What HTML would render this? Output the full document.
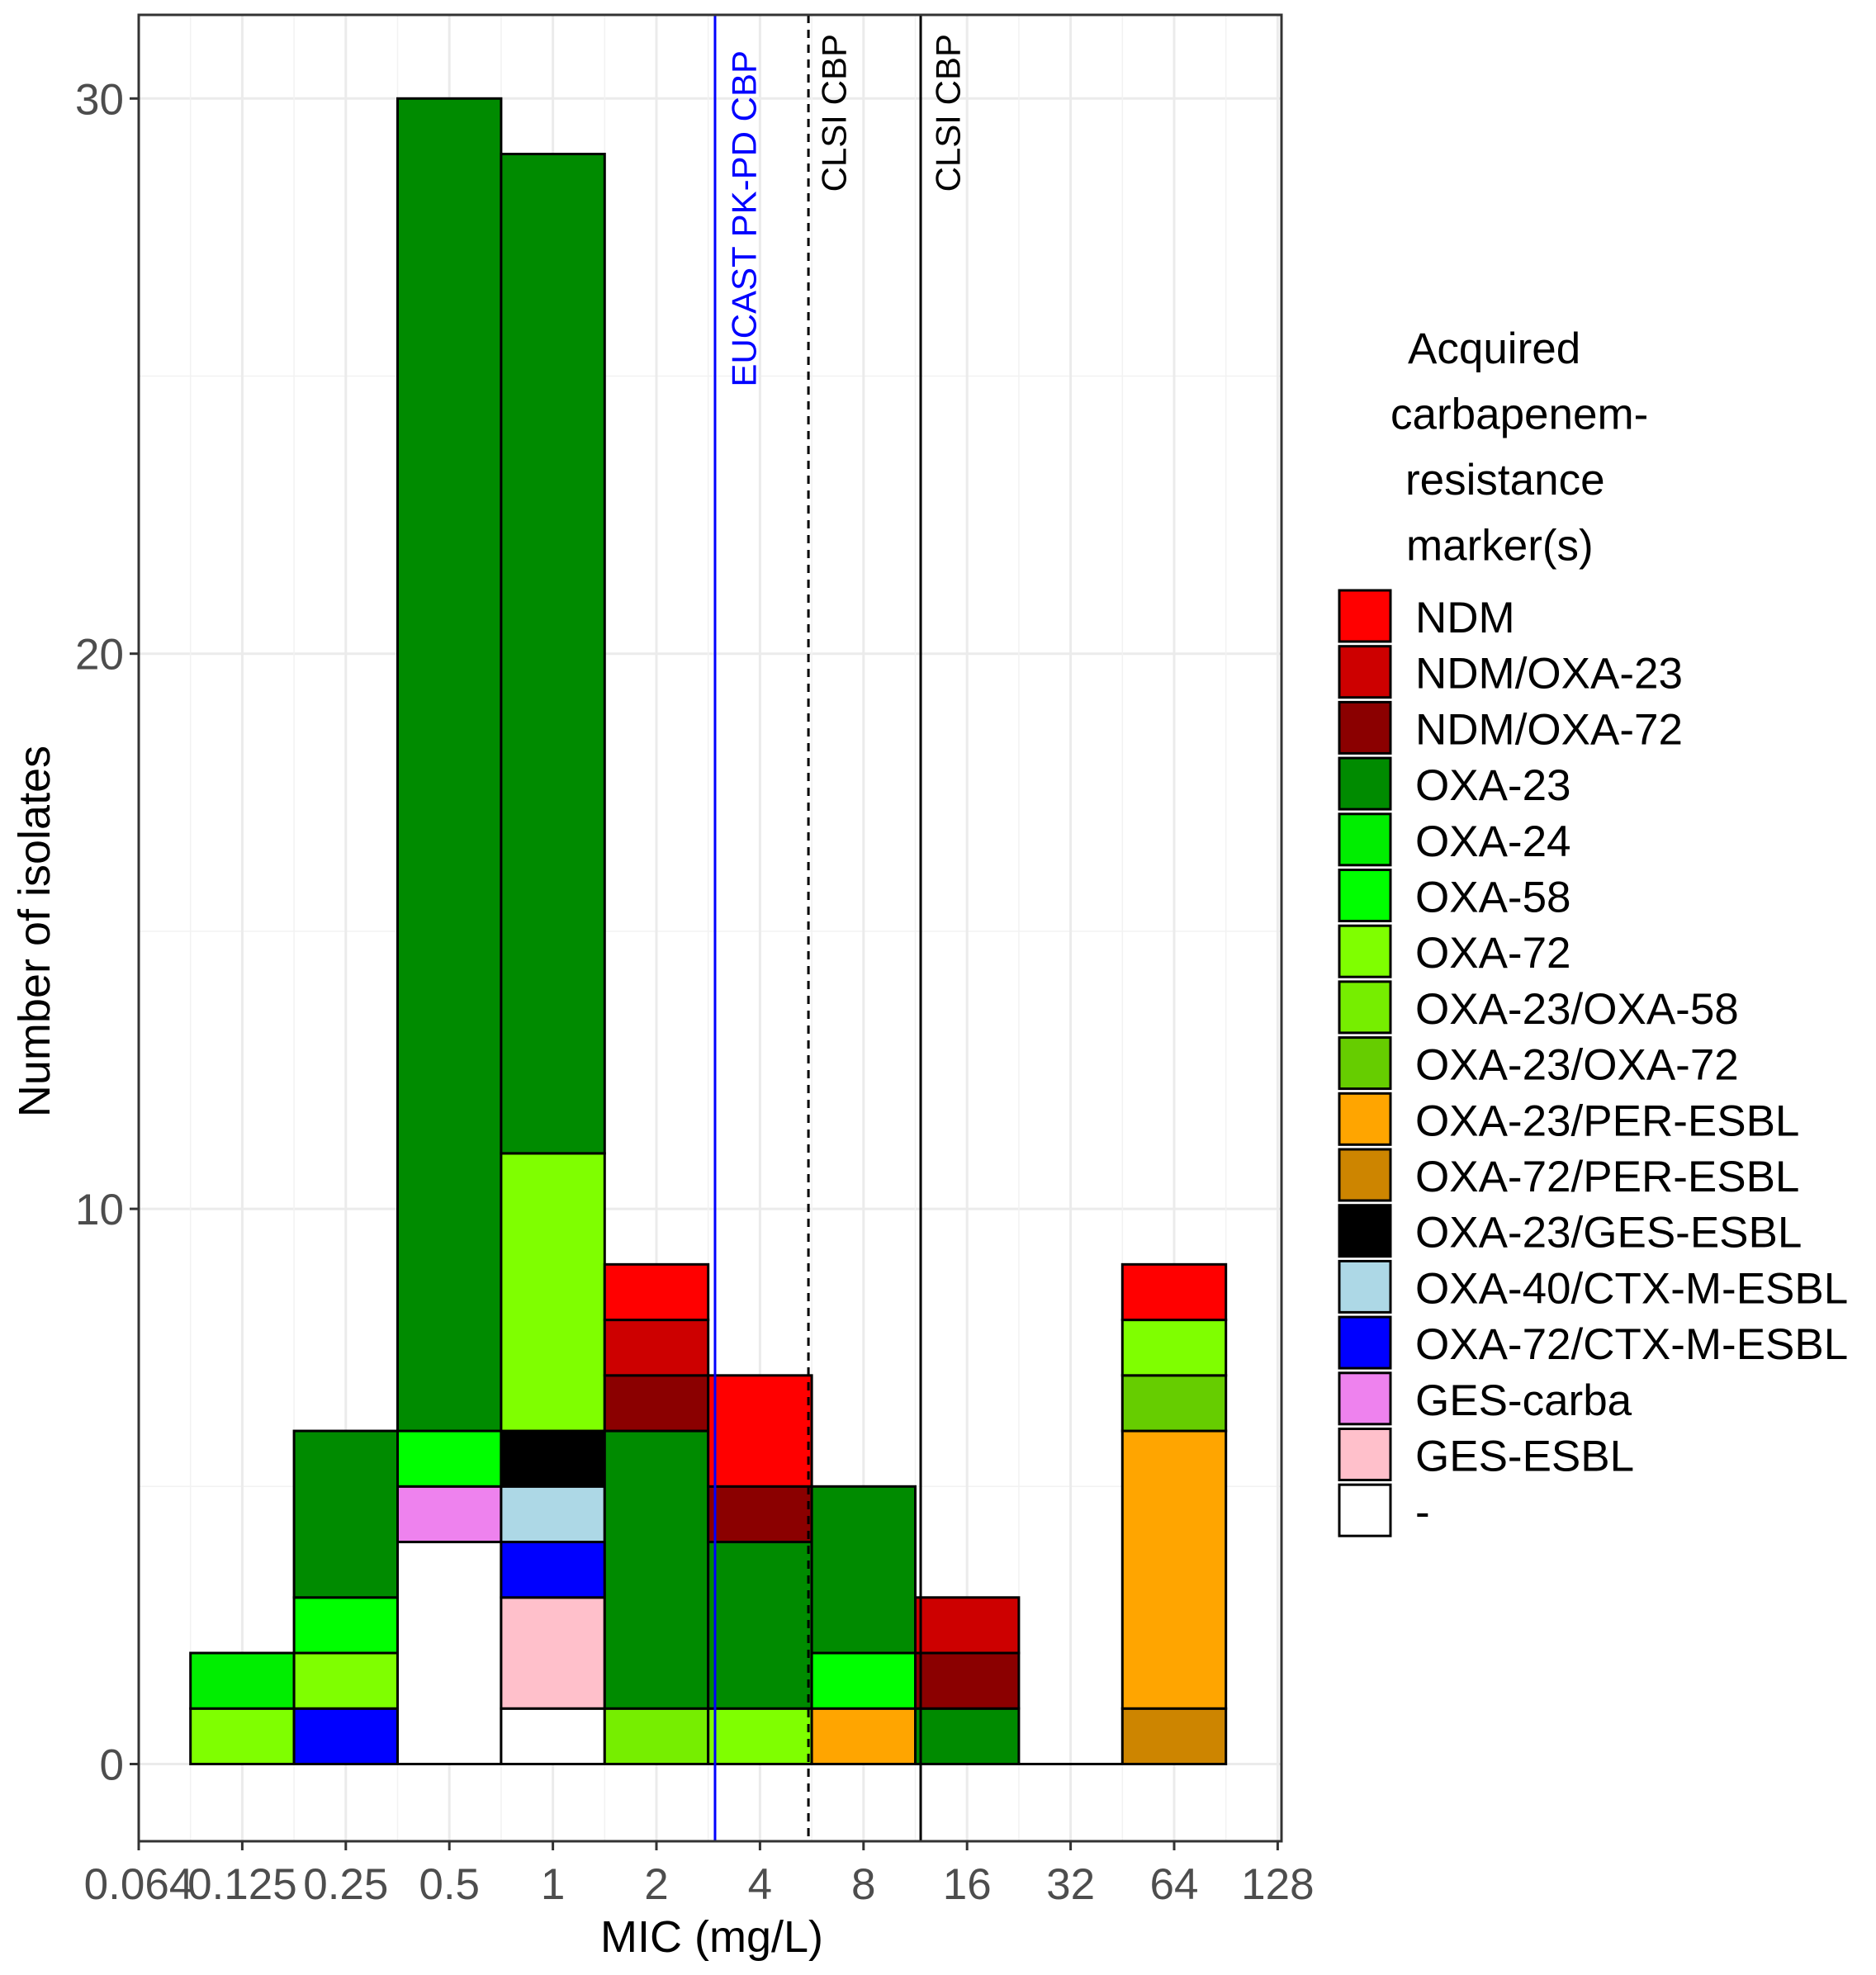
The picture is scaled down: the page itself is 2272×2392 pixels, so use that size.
<!DOCTYPE html>
<html><head><meta charset="utf-8"><style>
html,body{margin:0;padding:0;background:#fff;}
svg{display:block;font-family:"Liberation Sans",Arial,sans-serif;}
</style></head><body>
<svg id="chart" width="2272" height="2392" viewBox="0 0 2272 2392" xmlns="http://www.w3.org/2000/svg"></svg>
<script>
const categories = ["0.064","0.125","0.25","0.5","1","2","4","8","16","32","64","128"];
const markers = ["NDM","NDM/OXA-23","NDM/OXA-72","OXA-23","OXA-24","OXA-58","OXA-72","OXA-23/OXA-58","OXA-23/OXA-72","OXA-23/PER-ESBL","OXA-72/PER-ESBL","OXA-23/GES-ESBL","OXA-40/CTX-M-ESBL","OXA-72/CTX-M-ESBL","GES-carba","GES-ESBL","-"];
const markerColors = ["#ff0000","#cd0000","#8b0000","#008b00","#00ee00","#00ff00","#7fff00","#76ee00","#66cd00","#ffa500","#cd8500","#000000","#add8e6","#0000ff","#ee82ee","#ffc0cb","#ffffff"];
// stacks: [categoryIndex, marker, count] bottom to top
const stacks = [
 [1,"OXA-72",1],[1,"OXA-24",1],
 [2,"OXA-72/CTX-M-ESBL",1],[2,"OXA-72",1],[2,"OXA-58",1],[2,"OXA-23",3],
 [3,"-",4],[3,"GES-carba",1],[3,"OXA-58",1],[3,"OXA-23",24],
 [4,"-",1],[4,"GES-ESBL",2],[4,"OXA-72/CTX-M-ESBL",1],[4,"OXA-40/CTX-M-ESBL",1],[4,"OXA-23/GES-ESBL",1],[4,"OXA-72",5],[4,"OXA-23",18],
 [5,"OXA-23/OXA-58",1],[5,"OXA-23",5],[5,"NDM/OXA-72",1],[5,"NDM/OXA-23",1],[5,"NDM",1],
 [6,"OXA-72",1],[6,"OXA-23",3],[6,"NDM/OXA-72",1],[6,"NDM",2],
 [7,"OXA-23/PER-ESBL",1],[7,"OXA-58",1],[7,"OXA-23",3],
 [8,"OXA-23",1],[8,"NDM/OXA-72",1],[8,"NDM/OXA-23",1],
 [9,"-",0],
 [10,"OXA-72/PER-ESBL",1],[10,"OXA-23/PER-ESBL",5],[10,"OXA-23/OXA-72",1],[10,"OXA-72",1],[10,"NDM",1]
];
const yTicks = [0,10,20,30];
const yMinor = [5,15,25];
const refLines = [
 {label:"EUCAST PK-PD CBP", pos:5.566, color:"#0000ff", dash:null, tx:901},
 {label:"CLSI CBP", pos:6.468, color:"#000000", dash:"10,8", tx:1010},
 {label:"CLSI CBP", pos:7.552, color:"#000000", dash:null, tx:1148}
];

const svg = document.getElementById('chart');
const NS = "http://www.w3.org/2000/svg";
const L=168, R=1552, T=18, B=2230, X0=168, DX=125.4, Y0=2136.5, DY=67.24;
const xs = i => X0 + DX*i;
const ys = v => Y0 - DY*v;
function mk(tag, attrs, parent){const e=document.createElementNS(NS,tag);for(const k in attrs)e.setAttribute(k,attrs[k]);(parent||svg).appendChild(e);return e;}

const grid = mk('g',{});


yMinor.forEach(v=>mk('line',{x1:L,x2:R,y1:ys(v),y2:ys(v),stroke:'#f2f2f2','stroke-width':1.5},grid));
yTicks.forEach(v=>mk('line',{x1:L,x2:R,y1:ys(v),y2:ys(v),stroke:'#ebebeb','stroke-width':3},grid));
categories.forEach((c,i)=>{
  if(i<categories.length-1) mk('line',{x1:xs(i+0.5),x2:xs(i+0.5),y1:T,y2:B,stroke:'#f2f2f2','stroke-width':1.5},grid);
  mk('line',{x1:xs(i),x2:xs(i),y1:T,y2:B,stroke:'#ebebeb','stroke-width':3},grid);
});

const bars = mk('g',{});


const cum = {};
stacks.forEach(([ci,m,n])=>{
  const base = cum[ci]||0;
  const col = markerColors[markers.indexOf(m)];
  if(n===0){
    const z = mk('line',{x1:xs(ci)-DX/2,x2:xs(ci)+DX/2,y1:ys(base),y2:ys(base),stroke:'#000','stroke-width':3},bars);
    
    
    return;
  }
  const r = mk('rect',{x:xs(ci)-DX/2,y:ys(base+n),width:DX,height:ys(base)-ys(base+n),fill:col,stroke:'#000','stroke-width':3},bars);
  
  
  cum[ci]=base+n;
});

refLines.forEach(l=>{
  const ln = mk('line',{x1:xs(l.pos),x2:xs(l.pos),y1:T,y2:B,stroke:l.color,'stroke-width':3});
  if(l.dash) ln.setAttribute('stroke-dasharray',l.dash);
  
  
  const yTop = l.label.length>10 ? 61 : 41;
  const t = mk('text',{x:l.tx,y:yTop,transform:`rotate(-90 ${l.tx} ${yTop})`,'text-anchor':'end','dominant-baseline':'central',fill:l.color,'font-size':42});
  t.textContent=l.label;
  
  
});

const border = mk('rect',{x:L,y:T,width:R-L,height:B-T,fill:'none',stroke:'#333','stroke-width':3});



yTicks.forEach(v=>{
  mk('line',{x1:L-11,x2:L,y1:ys(v),y2:ys(v),stroke:'#333','stroke-width':3});
  const t=mk('text',{x:L-18,y:ys(v)+19,'text-anchor':'end',fill:'#4d4d4d','font-size':53});
  t.textContent=v;
  
  
});
categories.forEach((c,i)=>{
  mk('line',{x1:xs(i),x2:xs(i),y1:B,y2:B+11,stroke:'#333','stroke-width':3});
  const t=mk('text',{x:xs(i),y:2300,'text-anchor':'middle',fill:'#4d4d4d','font-size':53});
  t.textContent=c;
  
  
});
const xt=mk('text',{x:862,y:2364,'text-anchor':'middle',fill:'#000','font-size':54});
xt.textContent='MIC (mg/L)';


const yt=mk('text',{x:60,y:1128,'text-anchor':'middle',fill:'#000','font-size':54,transform:'rotate(-90 60 1128)'});
yt.textContent='Number of isolates';



const leg = mk('g',{});


const titleLines=[["Acquired",1705],["carbapenem-",1684],["resistance",1702],["marker(s)",1703]];
titleLines.forEach(([s,x],k)=>{
  const t=mk('text',{x:x,y:440+k*79.5,fill:'#000','font-size':53},leg);
  t.textContent=s;
  
  
});
markers.forEach((m,k)=>{
  const y=715+k*67.7;
  const r=mk('rect',{x:1622,y:y,width:62,height:62,fill:markerColors[k],stroke:'#000','stroke-width':3},leg);
  
  
  const t=mk('text',{x:1714,y:y+51,fill:'#000','font-size':53},leg);
  t.textContent=m;
  
  
});
</script>
</body></html>
